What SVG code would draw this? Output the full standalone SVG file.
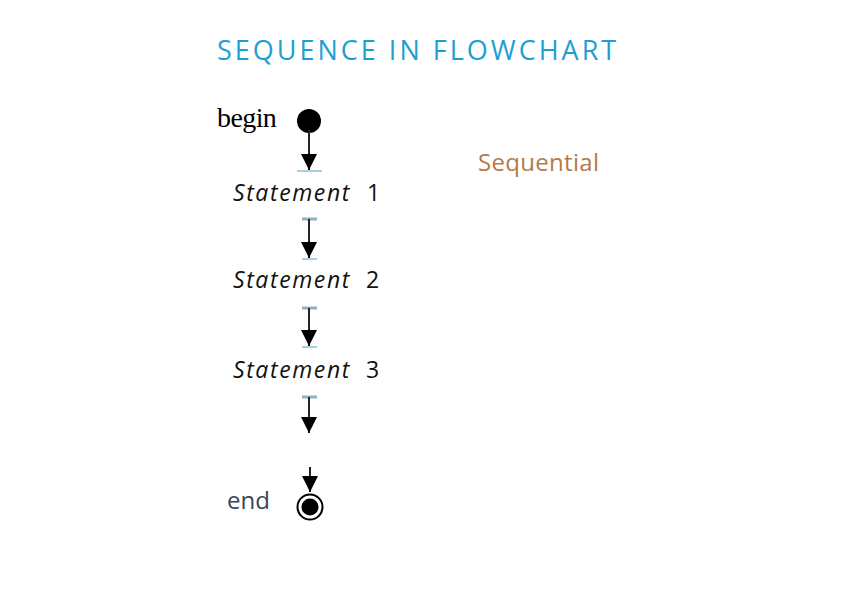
<svg xmlns="http://www.w3.org/2000/svg" width="842" height="595" viewBox="0 0 842 595">
<style>
.title{font-family:"Open Sans","Noto Sans",sans-serif;font-size:27px;fill:#1f9fd1;letter-spacing:3px}
.stmt{font-family:"Open Sans","Noto Sans",sans-serif;font-size:23px;font-style:italic;fill:#111;letter-spacing:1.6px}
.num{font-family:"Open Sans","Noto Sans",sans-serif;font-size:23px;font-style:normal;fill:#111;letter-spacing:0}
.ser{font-family:"Liberation Serif",serif;font-size:28px;fill:#000;letter-spacing:-0.6px}
.end{font-family:"Open Sans","Noto Sans",sans-serif;font-size:24px;fill:#3a4558}
.seq{font-family:"Open Sans","Noto Sans",sans-serif;font-size:24px;fill:#b47a48;letter-spacing:0.3px}
.ln{stroke:#222;stroke-width:2;fill:none}
.cap{stroke:#8fb0c0;stroke-width:3}
.base{stroke:#a8d0d8;stroke-width:2}
</style>
<defs>
<marker id="ahb" viewBox="0 0 10 10" refX="10" refY="5" markerWidth="16" markerHeight="16" markerUnits="userSpaceOnUse" orient="auto">
<path d="M0,0 L10,5 L0,10 z" fill="#000"/>
</marker>
</defs>
<text class="title" x="217" y="60">SEQUENCE IN FLOWCHART</text>
<text class="seq" x="478" y="171">Sequential</text>
<g id="begin">
<text class="ser" x="217" y="127">begin</text>
<circle cx="309" cy="121" r="12" fill="#000"/>
</g>
<g id="s1"><text class="stmt" x="233" y="201">Statement <tspan class="num" x="367">1</tspan></text></g>
<g id="s2"><text class="stmt" x="233" y="288">Statement <tspan class="num" x="366">2</tspan></text></g>
<g id="s3"><text class="stmt" x="233" y="378">Statement <tspan class="num" x="366">3</tspan></text></g>
<g id="end">
<text class="end" x="227" y="509">end</text>
<circle cx="310" cy="507" r="12.5" fill="#fff" stroke="#000" stroke-width="2"/>
<circle cx="310" cy="507" r="8.5" fill="#000"/>
</g>
<g id="connectors">
<line class="ln" x1="309" y1="130" x2="309" y2="170" marker-end="url(#ahb)"/>
<line class="base" x1="297" y1="171" x2="322" y2="171"/>
<line class="cap" x1="302" y1="219" x2="317" y2="219"/>
<line class="ln" x1="309" y1="219" x2="309" y2="258" marker-end="url(#ahb)"/>
<line class="base" x1="302" y1="259" x2="317" y2="259"/>
<line class="cap" x1="302" y1="308" x2="317" y2="308"/>
<line class="ln" x1="309" y1="308" x2="309" y2="346" marker-end="url(#ahb)"/>
<line class="base" x1="302" y1="347" x2="317" y2="347"/>
<line class="cap" x1="302" y1="397" x2="317" y2="397"/>
<line class="ln" x1="309" y1="397" x2="309" y2="433" marker-end="url(#ahb)"/>
<line class="ln" x1="310" y1="467" x2="310" y2="492" marker-end="url(#ahb)"/>
</g>
</svg>
